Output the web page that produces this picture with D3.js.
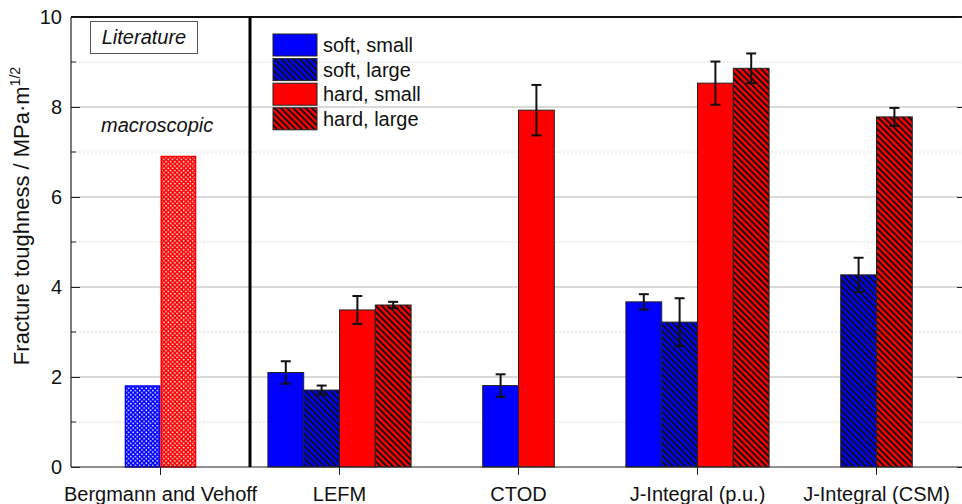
<!DOCTYPE html>
<html><head><meta charset="utf-8">
<script src="https://cdn.jsdelivr.net/npm/d3@7/dist/d3.min.js"></script>
<style>
html,body{margin:0;padding:0;background:#fff;}
svg{display:block;font-family:"Liberation Sans",Arial,sans-serif;}
</style></head>
<body>
<svg id="chart" width="962" height="504"></svg>
<script>
// ---- data ----
const categories = ["Bergmann and Vehoff","LEFM","CTOD","J-Integral (p.u.)","J-Integral (CSM)"];
const seriesKeys = ["soft, small","soft, large","hard, small","hard, large"];
const softSmall    = [null, 2.10, 1.81, 3.67, null];
const softSmallErr = [null, 0.25, 0.25, 0.17, null];
const softLarge    = [null, 1.71, null, 3.22, 4.27];
const softLargeErr = [null, 0.10, null, 0.53, 0.38];
const hardSmall    = [null, 3.49, 7.93, 8.53, null];
const hardSmallErr = [null, 0.31, 0.56, 0.48, null];
const hardLarge    = [null, 3.60, null, 8.86, 7.78];
const hardLargeErr = [null, 0.07, null, 0.33, 0.20];
const literatureKeys   = ["soft","hard"];
const literatureValues = [1.8, 6.9];
const yTicks = [0,2,4,6,8,10];
const yMinorTicks = [1,3,5,7,9];

// ---- layout ----
const svg = d3.select("#chart");
const L = 71, R = 966, T = 17, B = 467;
const x = d3.scaleBand().domain(categories).range([L, R]).padding(0);
const y = d3.scaleLinear().domain([0, 10]).range([B, T]);
const barW = x.bandwidth() * 0.2;

const colors = {"soft, small":"#0000ff","soft, large":"#0000ff","hard, small":"#ff0000","hard, large":"#ff0000"};
const hatched = {"soft, small":false,"soft, large":true,"hard, small":false,"hard, large":true};

// ---- patterns ----
const defs = svg.append("defs");
function hatch(id, color){
  const p = defs.append("pattern").attr("id", id).attr("patternUnits","userSpaceOnUse")
    .attr("width", 4.4).attr("height", 4.4).attr("patternTransform","rotate(-45)");
  p.append("rect").attr("width",4.4).attr("height",4.4).attr("fill",color);
  p.append("rect").attr("x",0).attr("width",1.9).attr("height",4.4).attr("fill","#111");
}
hatch("hatch-blue","#0000ff");
hatch("hatch-red","#ff0000");
function cross(id, color){
  const p = defs.append("pattern").attr("id", id).attr("patternUnits","userSpaceOnUse")
    .attr("width", 4.4).attr("height", 4.4);
  p.append("rect").attr("width",4.4).attr("height",4.4).attr("fill",color);
  p.append("circle").attr("cx",1.1).attr("cy",1.1).attr("r",0.8).attr("fill","#fff");
  p.append("circle").attr("cx",3.3).attr("cy",3.3).attr("r",0.8).attr("fill","#fff");
}
cross("cross-blue","#0000ff");
cross("cross-red","#ff0000");

// ---- grid ----
const grid = svg.append("g");
grid.selectAll(".minor").data(yMinorTicks).join("line")
  .attr("x1", L).attr("x2", R).attr("y1", d=>y(d)).attr("y2", d=>y(d))
  .attr("stroke","#d8d8d8").attr("stroke-width",1).attr("stroke-dasharray","2,2");
grid.selectAll(".major").data(yTicks.filter(d=>d>0 && d<10)).join("line")
  .attr("x1", L).attr("x2", R).attr("y1", d=>y(d)).attr("y2", d=>y(d))
  .attr("stroke","#b4b4b4").attr("stroke-width",1);

// ---- literature bars ----
const lit = svg.append("g");
const litX = d3.scaleBand().domain(literatureKeys)
  .range([x(categories[0]) + x.bandwidth()/2 - barW, x(categories[0]) + x.bandwidth()/2 + barW]);
lit.selectAll("rect").data(literatureKeys).join("rect")
  .attr("x", d=>litX(d)+0.75).attr("width", litX.bandwidth()-1.5)
  .attr("y", (d,i)=>y(literatureValues[i])).attr("height",(d,i)=>B - y(literatureValues[i]))
  .attr("fill", d=> d==="soft" ? "url(#cross-blue)" : "url(#cross-red)")
  .attr("stroke", d=> d==="soft" ? "#0000ff" : "#ff0000").attr("stroke-width",1.5);

// ---- measured bars ----
const values = {"soft, small":softSmall,"soft, large":softLarge,"hard, small":hardSmall,"hard, large":hardLarge};
const errs = {"soft, small":softSmallErr,"soft, large":softLargeErr,"hard, small":hardSmallErr,"hard, large":hardLargeErr};
const bars = [];
categories.forEach((c, ci) => {
  const present = seriesKeys.filter(k => values[k][ci] != null);
  if (!present.length) return;
  const cx = x(c) + x.bandwidth()/2;
  const inner = d3.scaleBand().domain(present).range([cx - present.length*barW/2, cx + present.length*barW/2]);
  present.forEach(k => bars.push({cat:c, key:k, x:inner(k), w:inner.bandwidth(), v:values[k][ci], e:errs[k][ci]}));
});
const bg = svg.append("g");
bg.selectAll("rect").data(bars).join("rect")
  .attr("x", d=>d.x).attr("width", d=>d.w)
  .attr("y", d=>y(d.v)).attr("height", d=>B - y(d.v))
  .attr("fill", d=> hatched[d.key] ? (colors[d.key]==="#0000ff" ? "url(#hatch-blue)" : "url(#hatch-red)") : colors[d.key])
  .attr("stroke","#222").attr("stroke-width",1);

// error bars
const eb = svg.append("g").attr("stroke","#111").attr("stroke-width",2);
bars.forEach(d => {
  const mx = d.x + d.w/2;
  eb.append("line").attr("x1",mx).attr("x2",mx).attr("y1",y(d.v+d.e)).attr("y2",y(d.v-d.e));
  eb.append("line").attr("x1",mx-5).attr("x2",mx+5).attr("y1",y(d.v+d.e)).attr("y2",y(d.v+d.e));
  eb.append("line").attr("x1",mx-5).attr("x2",mx+5).attr("y1",y(d.v-d.e)).attr("y2",y(d.v-d.e));
});

// ---- axes ----
const ax = svg.append("g");
ax.append("line").attr("x1",L).attr("x2",R).attr("y1",T).attr("y2",T).attr("stroke","#111").attr("stroke-width",2);
ax.append("line").attr("x1",L).attr("x2",R).attr("y1",B).attr("y2",B).attr("stroke","#222").attr("stroke-width",1.2);
ax.append("line").attr("x1",L).attr("x2",L).attr("y1",T).attr("y2",B).attr("stroke","#222").attr("stroke-width",1.2);
ax.append("line").attr("x1",R).attr("x2",R).attr("y1",T).attr("y2",B).attr("stroke","#222").attr("stroke-width",1.2);

const yAxis = d3.axisLeft(y).tickValues(yTicks).tickSize(-9).tickPadding(9).tickFormat(d3.format("d"));
const gy = ax.append("g").attr("transform",`translate(${L},0)`).call(yAxis);
gy.select(".domain").remove();
gy.selectAll("text").attr("font-size",20).attr("fill","#111").attr("font-family","Liberation Sans, Arial, sans-serif");
gy.selectAll("line").attr("stroke","#222");
ax.append("g").selectAll("line").data(yMinorTicks).join("line")
  .attr("x1",L).attr("x2",L+5).attr("y1",d=>y(d)).attr("y2",d=>y(d)).attr("stroke","#222");
const yAxisR = d3.axisRight(y).tickValues(yTicks).tickSize(-9).tickFormat("");
const gyr = ax.append("g").attr("transform",`translate(${R},0)`).call(yAxisR);
gyr.select(".domain").remove();
gyr.selectAll("line").attr("stroke","#222");

const xAxis = d3.axisBottom(x).tickSize(8).tickPadding(12);
const gx = ax.append("g").attr("transform",`translate(0,${B})`).call(xAxis);
gx.select(".domain").remove();
gx.selectAll("line").attr("stroke","#222");
gx.selectAll("text").attr("font-size",20).attr("fill","#111").attr("font-family","Liberation Sans, Arial, sans-serif");

// separator
const sepX = x(categories[1]);
svg.append("line").attr("x1",sepX).attr("x2",sepX).attr("y1",T).attr("y2",B).attr("stroke","#000").attr("stroke-width",3);

// y label
const yl = svg.append("text").attr("transform",`translate(29,216) rotate(-90)`)
  .attr("text-anchor","middle").attr("font-size",22).attr("fill","#111");
yl.append("tspan").text("Fracture toughness / MPa·m");
yl.append("tspan").attr("font-size",14).attr("dy",-9).text("1/2");

// literature annotations
svg.append("rect").attr("x",90.5).attr("y",21.5).attr("width",107).attr("height",32)
  .attr("fill","#fff").attr("stroke","#555").attr("stroke-width",1);
svg.append("text").attr("x",144).attr("y",44).attr("text-anchor","middle")
  .attr("font-size",20).attr("font-style","italic").attr("fill","#111").text("Literature");
svg.append("text").attr("x",101).attr("y",132)
  .attr("font-size",20).attr("font-style","italic").attr("fill","#111").text("macroscopic");

// legend
const lg = svg.append("g").attr("transform","translate(273,34)");
const row = lg.selectAll("g").data(seriesKeys).join("g").attr("transform",(d,i)=>`translate(0,${i*24.6})`);
row.append("rect").attr("width",44).attr("height",22)
  .attr("fill", d=> hatched[d] ? (colors[d]==="#0000ff" ? "url(#hatch-blue)" : "url(#hatch-red)") : colors[d])
  .attr("stroke","#222").attr("stroke-width",1);
row.append("text").attr("x",50).attr("y",18).attr("font-size",20).attr("fill","#111").text(d=>d);
</script>
</body></html>
